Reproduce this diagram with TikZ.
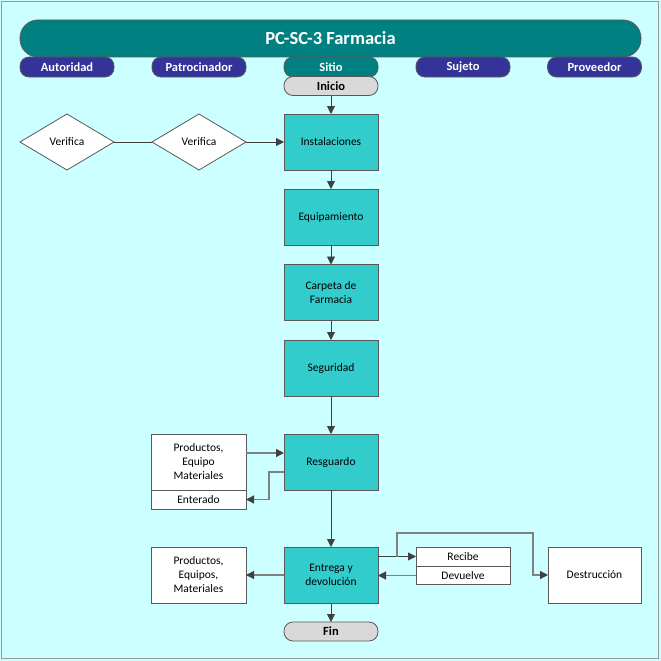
\documentclass[tikz,border=0pt]{standalone}
\usepackage{fontspec}
\setmainfont{Carlito}
\usetikzlibrary{shapes.geometric,arrows.meta,calc}
\definecolor{bgc}{HTML}{CCFFFF}
\definecolor{teal2}{HTML}{008080}
\definecolor{navy2}{HTML}{333399}
\definecolor{proc}{HTML}{33CCCC}
\definecolor{term}{HTML}{D9D9D9}
\definecolor{edge}{HTML}{595959}
\definecolor{ln}{HTML}{404040}
\tikzset{
  x=1pt,y=-1pt,
  every node/.style={inner sep=0pt, outer sep=0pt, align=center, font=\fontsize{11.5}{14}\selectfont},
  procbox/.style={draw=edge, fill=proc, line width=0.9pt, minimum width=94pt, minimum height=56pt},
  whitebox/.style={draw=edge, fill=white, line width=0.9pt, minimum width=95pt, minimum height=56pt},
  smallbox/.style={draw=edge, fill=white, line width=0.9pt, minimum width=94pt, minimum height=19pt},
  lanehead/.style={draw=edge, fill=navy2, rounded corners=9pt, line width=0.8pt, minimum width=94pt, minimum height=20pt, text=white, font=\fontsize{12.5}{14}\selectfont\bfseries},
  termbox/.style={draw=edge, fill=term, rounded corners=9pt, line width=0.8pt, minimum width=94pt, minimum height=19pt, font=\fontsize{12.5}{14}\selectfont\bfseries},
  decbox/.style={draw=edge, fill=white, diamond, line width=0.8pt, minimum width=94pt, minimum height=56pt},
  arr/.style={draw=ln, line width=0.9pt, -{Triangle[width=8pt,length=8pt]}},
  garr/.style={draw=gray, line width=1.2pt, -{Triangle[width=8pt,length=8pt,color=ln,fill=ln]}},
  plain/.style={draw=ln, line width=0.9pt},
}
\begin{document}
\begin{tikzpicture}
\useasboundingbox (0,0) rectangle (661,661);
\fill[bgc] (0,0) rectangle (661,661);
\draw[gray!80, line width=1.5pt] (1.5,1.5) rectangle (658.5,658.5);
% title
\node[draw=edge, fill=teal2, rounded corners=18pt, line width=0.8pt, minimum width=621pt, minimum height=37pt, text=white, font=\fontsize{18.5}{20}\selectfont\bfseries] (title) at (330.5,38.5) {PC-SC-3 Farmacia};
\node[lanehead] (l1) at (67,67) {Autoridad};
\node[lanehead] (l2) at (199,67) {Patrocinador};
\node[lanehead, fill=teal2] (l3) at (331,67) {Sitio};
\node[lanehead] (l4) at (463,67) {Sujeto};
\node[lanehead] (l5) at (594.5,67) {Proveedor};
% nodes
\node[termbox] (ini) at (331,86) {Inicio};
\node[procbox] (inst) at (331,142) {Instalaciones};
\node[procbox] (equi) at (331,217) {Equipamiento};
\node[procbox] (carp) at (331,292.5) {Carpeta de\\Farmacia};
\node[procbox] (segu) at (331,368) {Seguridad};
\node[procbox] (resg) at (331,462) {Resguardo};
\node[procbox] (entr) at (331,575) {Entrega y\\devolución};
\node[termbox] (fin) at (331,631.5) {Fin};
\node[decbox] (v1) at (67,142) {Verifica};
\node[decbox] (v2) at (199,142) {Verifica};
\node[whitebox] (p1) at (198.5,462) {Productos,\\Equipo\\Materiales};
\node[smallbox, minimum width=95pt] (ente) at (198.5,499.5) {Enterado};
\node[whitebox] (p2) at (198.5,575) {Productos,\\Equipos,\\Materiales};
\node[smallbox] (reci) at (463,556.5) {Recibe};
\node[smallbox, minimum height=18pt] (devu) at (463,575.5) {Devuelve};
\node[whitebox, minimum width=93pt] (dest) at (594.5,575) {Destrucción};
\coordinate (br) at (397,556.5);
\coordinate (tp) at (533,533);
% connectors
\draw[arr] (ini) -- (inst);
\draw[arr] (inst) -- (equi);
\draw[arr] (equi) -- (carp);
\draw[arr] (carp) -- (segu);
\draw[arr] (segu) -- (resg);
\draw[arr] (resg) -- (entr);
\draw[arr] (entr) -- (fin);
\draw[plain] (v1) -- (v2);
\draw[arr] (v2) -- (inst);
\draw[garr] ([yshift=9pt]p1.east) -- ([yshift=9pt]resg.west);
\draw[garr] ([yshift=-10pt]resg.west) -- ++(-15,0) |- (ente.east);
\draw[garr] (entr.west) -- (p2.east);
\draw[arr] (entr.east |- reci.west) -- (reci.west);
\draw[garr] (br) |- (tp) |- (dest.west);
\draw[garr] (devu.west) -- (entr.east |- devu.west);
\end{tikzpicture}
\end{document}
